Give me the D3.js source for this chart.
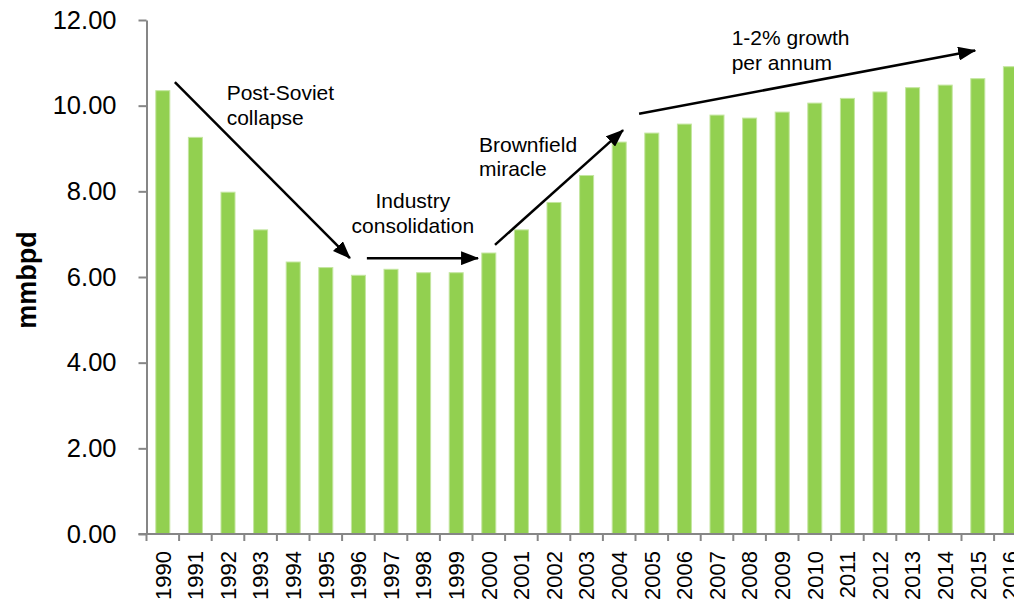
<!DOCTYPE html>
<html>
<head>
<meta charset="utf-8">
<script src="https://cdn.jsdelivr.net/npm/d3@7"></script>
<style>
  html, body { margin: 0; padding: 0; background: #fff; overflow: hidden; }
  svg { display: block; }
</style>
</head>
<body>
<svg id="chart" width="1014" height="602"></svg>
<script>
// Russian crude oil production, million barrels per day
const years = ["1990","1991","1992","1993","1994","1995","1996","1997","1998","1999",
               "2000","2001","2002","2003","2004","2005","2006","2007","2008","2009",
               "2010","2011","2012","2013","2014","2015","2016"];
const production = [10.35, 9.26, 7.98, 7.10, 6.35, 6.22, 6.04, 6.18, 6.10, 6.10,
                    6.56, 7.10, 7.74, 8.37, 9.15, 9.36, 9.57, 9.78, 9.71, 9.85,
                    10.06, 10.17, 10.32, 10.42, 10.48, 10.63, 10.91];
const yTicks = [0, 2, 4, 6, 8, 10, 12];
const yTitle = "mmbpd";

// Trend arrows, in (year position, value) coordinates
const arrowFrom = [[1990.87, 10.55], [1996.76, 6.44], [2000.69, 6.75], [2005.11, 9.81]];
const arrowTo   = [[1996.24, 6.44],  [2000.17, 6.44], [2004.62, 9.43], [2015.42, 11.29]];

// Annotation labels: lines, anchor position and alignment
const noteLines  = [["Post-Soviet", "collapse"], ["Industry", "consolidation"],
                    ["Brownfield", "miracle"], ["1-2% growth", "per annum"]];
const noteAt     = [[1992.46, 10.13], [1998.17, 7.61], [2000.20, 8.92], [2007.95, 11.41]];
const noteAnchor = ["start", "middle", "start", "start"];

const svg = d3.select("#chart");
const plotLeft = 146.5, step = 32.6;
const plotRight = plotLeft + step * years.length;
const plotTop = 20, plotBottom = 534;

const x = d3.scaleBand().domain(years).range([plotLeft, plotRight]).padding(0);
const xPos = d3.scaleLinear().domain([1990, 1990 + years.length]).range([plotLeft, plotRight]);
const y = d3.scaleLinear().domain([0, 12]).range([plotBottom, plotTop]);

const barW = x.bandwidth() * 0.43;
const axisColor = "#868686";

// Bars
svg.append("g")
  .selectAll("rect")
  .data(years)
  .join("rect")
  .attr("x", d => x(d) + (x.bandwidth() - barW) / 2)
  .attr("y", (d, i) => y(production[i]))
  .attr("width", barW)
  .attr("height", (d, i) => y(0) - y(production[i]))
  .attr("fill", "#92d050")
  .attr("stroke", "#c4e6a0")
  .attr("stroke-width", 1);

// Y axis
const yAxis = svg.append("g")
  .attr("transform", `translate(${plotLeft},0)`)
  .call(d3.axisLeft(y).tickValues(yTicks).tickFormat(d3.format(".2f")).tickSizeInner(8).tickSizeOuter(0).tickPadding(22));
yAxis.select(".domain").attr("stroke", axisColor).attr("stroke-width", 2);
yAxis.selectAll(".tick line").attr("stroke", axisColor).attr("stroke-width", 2);
yAxis.selectAll(".tick text")
  .attr("fill", "#000")
  .style("font-family", "'Liberation Sans', Arial, sans-serif")
  .style("font-size", "25.5px");

// X axis: ticks at category boundaries
const xAxis = svg.append("g").attr("transform", `translate(0,${plotBottom})`);
xAxis.append("line")
  .attr("x1", plotLeft - 8).attr("x2", plotRight)
  .attr("stroke", axisColor).attr("stroke-width", 2);
xAxis.selectAll("line.tk")
  .data(years)
  .join("line")
  .attr("class", "tk")
  .attr("x1", d => x(d)).attr("x2", d => x(d))
  .attr("y1", 0).attr("y2", 7)
  .attr("stroke", axisColor).attr("stroke-width", 2);
xAxis.selectAll("text")
  .data(years)
  .join("text")
  .attr("transform", d => `translate(${x(d) + x.bandwidth() / 2},17) rotate(-90)`)
  .attr("text-anchor", "end")
  .attr("dy", "0.35em")
  .style("font-family", "'Liberation Sans', Arial, sans-serif")
  .style("font-size", "22px")
  .attr("fill", "#000")
  .text(d => d);

// Y axis title
svg.append("text")
  .attr("transform", `translate(36,${(plotTop + plotBottom) / 2 + 3}) rotate(-90)`)
  .attr("text-anchor", "middle")
  .style("font-family", "'Liberation Sans', Arial, sans-serif")
  .style("font-size", "27px")
  .style("font-weight", "bold")
  .attr("fill", "#000")
  .text(yTitle);

// Arrowhead
svg.append("defs").append("marker")
  .attr("id", "head")
  .attr("markerUnits", "userSpaceOnUse")
  .attr("viewBox", "0 0 18 14")
  .attr("markerWidth", 18).attr("markerHeight", 14)
  .attr("refX", 17).attr("refY", 7)
  .attr("orient", "auto")
  .append("path")
  .attr("d", "M0,0 L18,7 L0,14 Z")
  .attr("fill", "#000");

svg.append("g")
  .selectAll("line")
  .data(arrowFrom)
  .join("line")
  .attr("x1", d => xPos(d[0])).attr("y1", d => y(d[1]))
  .attr("x2", (d, i) => xPos(arrowTo[i][0])).attr("y2", (d, i) => y(arrowTo[i][1]))
  .attr("stroke", "#000").attr("stroke-width", 2.5)
  .attr("marker-end", "url(#head)");

// Annotation text
const notes = svg.append("g")
  .style("font-family", "'Liberation Sans', Arial, sans-serif")
  .style("font-size", "21px")
  .attr("fill", "#000");
noteLines.forEach((lines, i) => {
  const t = notes.append("text")
    .attr("x", xPos(noteAt[i][0]))
    .attr("y", y(noteAt[i][1]))
    .attr("text-anchor", noteAnchor[i]);
  lines.forEach((ln, j) => {
    t.append("tspan")
      .attr("x", xPos(noteAt[i][0]))
      .attr("dy", j === 0 ? 0 : 24.5)
      .text(ln);
  });
});
</script>
</body>
</html>
